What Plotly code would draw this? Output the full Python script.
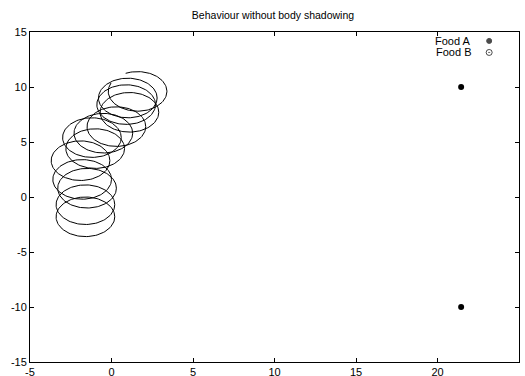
import numpy as np
import plotly.graph_objects as go

# Body positions along the track (circle centres) and body radius
body_x = [-1.6, -1.6, -1.5, -1.8, -1.9, -1.0, -1.2, -0.5, 0.3, 1.1, 0.9, 1.0, 1.6]
body_y = [-1.8, -0.7, 0.8, 1.6, 3.3, 4.4, 5.4, 5.8, 6.4, 7.7, 8.4, 9.0, 9.6]
body_r = 1.8
# The last outline is still being traced: it stops short of closing
last_arc_deg = (155, 474)

# Food sources
food_a_x = [21.45, 21.45]
food_a_y = [10, -10]
food_b_x = []
food_b_y = []

title = "Behaviour without body shadowing"
x_ticks = [-5, 0, 5, 10, 15, 20, 25]
y_ticks = [-15, -10, -5, 0, 5, 10, 15]
x_tick_text = ["-5", "0", "5", "10", "15", "20", "25"]
y_tick_text = ["-15", "-10", "-5", "0", "5", "10", "15"]

FONT = "Liberation Sans, Arial, sans-serif"

# Outline of every body circle, drawn as one polyline with breaks
ring_x, ring_y = [], []
n = len(body_x)
for i, (cx, cy) in enumerate(zip(body_x, body_y)):
    if i == n - 1:
        a0, a1 = np.radians(last_arc_deg[0]), np.radians(last_arc_deg[1])
        theta = np.linspace(a0, a1, 120)
    else:
        theta = np.linspace(0, 2 * np.pi, 120)
    ring_x += list(cx + body_r * np.cos(theta)) + [None]
    ring_y += list(cy + body_r * np.sin(theta)) + [None]

fig = go.Figure()
fig.add_trace(go.Scatter(
    x=ring_x, y=ring_y, mode="lines",
    line=dict(color="black", width=1), showlegend=False, hoverinfo="skip"))
fig.add_trace(go.Scatter(
    x=food_a_x, y=food_a_y, mode="markers",
    marker=dict(symbol="circle", size=6, color="black"), showlegend=False))
fig.add_trace(go.Scatter(
    x=food_b_x, y=food_b_y, mode="markers",
    marker=dict(symbol="circle-open-dot", size=6, color="black",
                line=dict(width=1, color="black")), showlegend=False))

# Key in the top-right corner: label on the left, symbol on the right
key_labels = ["Food A", "Food B"]
key_y = [0.973, 0.938]
key_symbols = ["circle", "circle-open-dot"]
fig.add_trace(go.Scatter(
    x=[0.939, 0.939], y=key_y, mode="markers", xaxis="x2", yaxis="y2",
    marker=dict(symbol=key_symbols, size=[5, 6], color="black",
                line=dict(width=1, color="black")),
    showlegend=False, hoverinfo="skip"))
for lab, ky in zip(key_labels, key_y):
    fig.add_annotation(
        x=0.906, y=ky, xref="x2", yref="y2", text=lab, showarrow=False,
        xanchor="right", yanchor="middle",
        font=dict(family=FONT, size=11, color="black"))

axis_common = dict(
    showgrid=False, zeroline=False, showline=True, linecolor="black",
    linewidth=1, mirror="ticks", ticks="inside", ticklen=4,
    tickcolor="black", tickwidth=1,
    tickfont=dict(family=FONT, size=11, color="black"))

fig.update_layout(
    width=525, height=376,
    margin=dict(l=30, r=6, t=32, b=14, autoexpand=False),
    paper_bgcolor="white", plot_bgcolor="white",
    title=dict(text=title, x=0.52, xanchor="center", y=0.96, yanchor="middle",
               font=dict(family=FONT, size=10.5, color="black")),
    xaxis=dict(range=[-5, 25], tickvals=x_ticks, ticktext=x_tick_text,
               **axis_common),
    yaxis=dict(range=[-15, 15], tickvals=y_ticks, ticktext=y_tick_text,
               **axis_common),
    xaxis2=dict(range=[0, 1], overlaying="x", visible=False),
    yaxis2=dict(range=[0, 1], overlaying="y", visible=False),
    showlegend=False,
)

fig.write_html("out.html")
